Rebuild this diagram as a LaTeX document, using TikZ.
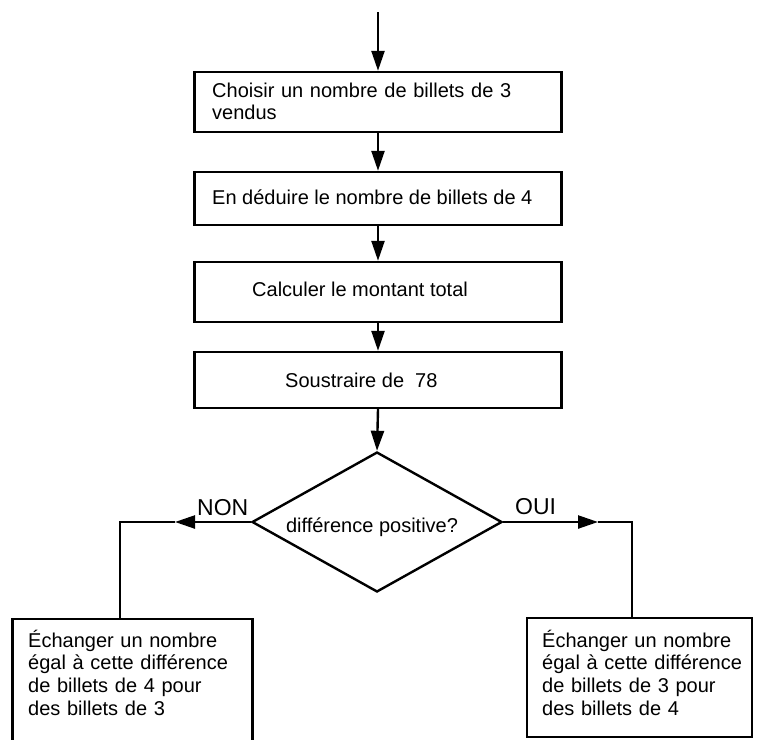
\documentclass[tikz,border=0pt]{standalone}
\usepackage{fontspec}
\setmainfont{Liberation Sans}
\usetikzlibrary{shapes.geometric,arrows.meta}
\begin{document}
\begin{tikzpicture}[x=1pt,y=-1pt,
  box/.style={draw, line width=2.4pt, rectangle, inner sep=0pt},
  txt/.style={anchor=base west, inner sep=0pt, align=left, font=\fontsize{20}{22.7}\selectfont},
  conn/.style={line width=2.4pt},
  arr/.style={conn, -{Triangle[length=20pt,width=13pt]}},
  lab/.style={anchor=base west, inner sep=0pt, font=\fontsize{23}{27}\selectfont}]
\useasboundingbox (0,0) rectangle (762,739);
\fill[white] (0,0) rectangle (762,739);
\clip (0,0) rectangle (762,739);

% process boxes
\node[box, minimum width=367pt, minimum height=60pt] (b1) at (378,102) {};
\node[box, minimum width=367pt, minimum height=53pt] (b2) at (378,198.5) {};
\node[box, minimum width=367pt, minimum height=60pt] (b3) at (378,292) {};
\node[box, minimum width=367pt, minimum height=56pt] (b4) at (378,380) {};
\node[diamond, draw, line width=2.4pt, minimum width=250pt, minimum height=140pt, inner sep=0pt] (d) at (377,522) {};
\node[box, minimum width=240pt, minimum height=142pt] (lb) at (132.5,690) {};
\node[box, minimum width=225pt, minimum height=119pt] (rb) at (639.5,677.5) {};

% texts
\node[txt, text width=340pt] (t1) at (212,97) {Choisir un nombre de billets de 3\\vendus};
\node[txt] (t2) at (212,204) {En déduire le nombre de billets de 4};
\node[txt] (t3) at (252,296) {Calculer le montant total};
\node[txt] (t4) at (285,387) {Soustraire de\ \ 78};
\node[txt, anchor=base] (td) at (372,532) {différence positive?};
\node[txt, text width=250pt] (tl) at (28,647) {Échanger un nombre\\égal à cette différence\\de billets de 4 pour\\des billets de 3};
\node[txt, text width=250pt] (tr) at (542,647) {Échanger un nombre\\égal à cette différence\\de billets de 3 pour\\des billets de 4};
\node[lab] (non) at (197,515) {NON};
\node[lab] (oui) at (515,514) {OUI};

% connectors
\coordinate (start) at (378,12);
\draw[arr] (start) -- (b1.north);
\draw[arr] (b1.south) -- (b2.north);
\draw[arr] (b2.south) -- (b3.north);
\draw[arr] (b3.south) -- (b4.north);
\draw[arr] (b4.south) -- (d.north);

\coordinate (ntip) at (175,522);
\coordinate (ncorner) at (120,522);
\draw[arr] (d.west) -- (ntip);
\draw[conn] (ntip) -- (ncorner) -- (ncorner |- lb.north);

\coordinate (otip) at (598,522);
\coordinate (ocorner) at (632,522);
\draw[arr] (d.east) -- (otip);
\draw[conn] (otip) -- (ocorner) -- (ocorner |- rb.north);
\end{tikzpicture}
\end{document}
